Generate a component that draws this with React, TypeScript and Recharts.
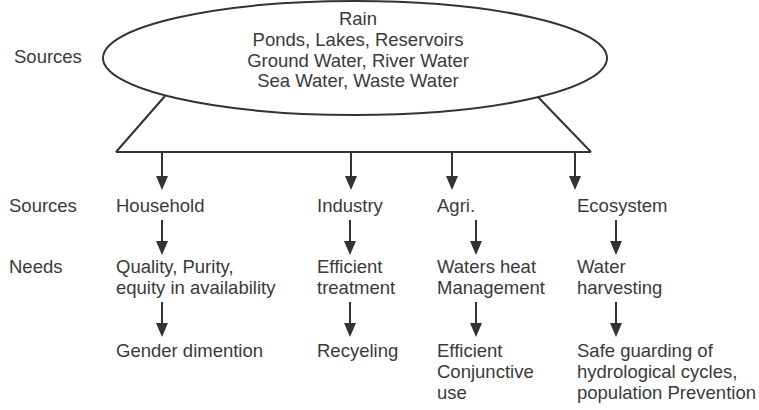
import { ScatterChart, Scatter, XAxis, YAxis, ReferenceLine, ReferenceArea } from "recharts";

const W = 759;
const H = 410;
const INK = "#333333";
const TEXT = "#3a3a3a";
const FONT = "'Liberation Sans', Arial, sans-serif";

// diagram content
const sourceList = ["Rain", "Ponds, Lakes, Reservoirs", "Ground Water, River Water", "Sea Water, Waste Water"];
const rowLabels = ["Sources", "Sources", "Needs"];
const sectors = ["Household", "Industry", "Agri.", "Ecosystem"];
const needs = [
    ["Quality, Purity,", "equity in availability"],
    ["Efficient", "treatment"],
    ["Waters heat", "Management"],
    ["Water", "harvesting"],
];
const outcomes = [
    ["Gender dimention"],
    ["Recyeling"],
    ["Efficient", "Conjunctive", "use"],
    ["Safe guarding of", "hydrological cycles,", "population Prevention"],
];

// layout in diagram units (same as pixel grid of the picture)
const rowLabelPos = [[14, 57], [9, 206], [9, 267]];
const columnX = [116, 317, 437, 577];
const rowY = { sector: 206, need: 267, outcome: 351 };
const topArrowX = [162, 351, 452, 575];
const lowArrowX = [162, 350, 476, 616];
const ellipse = { x1: 103, x2: 607, y1: 1, y2: 115 };
const trapezoid = [
    [{ x: 165, y: 96 }, { x: 116, y: 152 }],
    [{ x: 116, y: 152 }, { x: 591, y: 152 }],
    [{ x: 591, y: 152 }, { x: 538, y: 97 }],
];

type Label = { x: number; y: number; lines: string[]; anchor: "start" | "middle" };

const labels: Label[] = [
    { x: 358, y: 19, lines: sourceList, anchor: "middle" },
    ...rowLabels.map((t, i) => ({ x: rowLabelPos[i][0], y: rowLabelPos[i][1], lines: [t], anchor: "start" as const })),
    ...sectors.map((t, i) => ({ x: columnX[i], y: rowY.sector, lines: [t], anchor: "start" as const })),
    ...needs.map((l, i) => ({ x: columnX[i], y: rowY.need, lines: l, anchor: "start" as const })),
    ...outcomes.map((l, i) => ({ x: columnX[i], y: rowY.outcome, lines: l, anchor: "start" as const })),
];

const arrows = [
    ...topArrowX.map((x) => ({ x, from: 152, to: 190 })),
    ...lowArrowX.map((x) => ({ x, from: 220, to: 255 })),
    ...lowArrowX.map((x) => ({ x, from: 302, to: 337 })),
];

const TextShape = (props: any) => {
    const { cx, cy, payload } = props;
    return (
        <text x={cx} y={cy} textAnchor={payload.anchor} fontSize={18.5} fill={TEXT} fontFamily={FONT}>
            {payload.lines.map((l: string, i: number) => (
                <tspan key={i} x={cx} dy={i === 0 ? "0.35em" : 20.6}>{l}</tspan>
            ))}
        </text>
    );
};

const ArrowShape = (p: any) => {
    const { x1, y1, x2, y2 } = p;
    const head = 14;
    const hw = 6;
    return (
        <g>
            <line x1={x1} y1={y1} x2={x2} y2={y2 - head + 2} stroke={INK} strokeWidth={2} />
            <polygon points={`${x2 - hw},${y2 - head} ${x2 + hw},${y2 - head} ${x2},${y2}`} fill={INK} />
        </g>
    );
};

const EllipseShape = (p: any) => {
    const { x, y, width, height } = p;
    return (
        <ellipse cx={x + width / 2} cy={y + height / 2} rx={width / 2} ry={height / 2}
            fill="#fff" stroke={INK} strokeWidth={2} />
    );
};

export default function App() {
    return (
        <div style={{ width: W, height: H, background: "#fff" }}>
            <style>{"body{margin:0}"}</style>
            <ScatterChart width={W} height={H} margin={{ top: 0, right: 0, bottom: 0, left: 0 }}>
                <XAxis type="number" dataKey="x" domain={[0, W]} allowDataOverflow hide />
                <YAxis type="number" dataKey="y" domain={[0, H]} allowDataOverflow reversed hide />
                {trapezoid.map((seg, i) => (
                    <ReferenceLine key={`t${i}`} segment={seg} stroke={INK} strokeWidth={2} ifOverflow="visible" />
                ))}
                <ReferenceArea x1={ellipse.x1} x2={ellipse.x2} y1={ellipse.y1} y2={ellipse.y2}
                    shape={EllipseShape} ifOverflow="visible" />
                {arrows.map((a, i) => (
                    <ReferenceLine key={`a${i}`} segment={[{ x: a.x, y: a.from }, { x: a.x, y: a.to }]}
                        shape={ArrowShape} ifOverflow="visible" />
                ))}
                <Scatter data={labels} shape={TextShape} isAnimationActive={false} />
            </ScatterChart>
        </div>
    );
}
